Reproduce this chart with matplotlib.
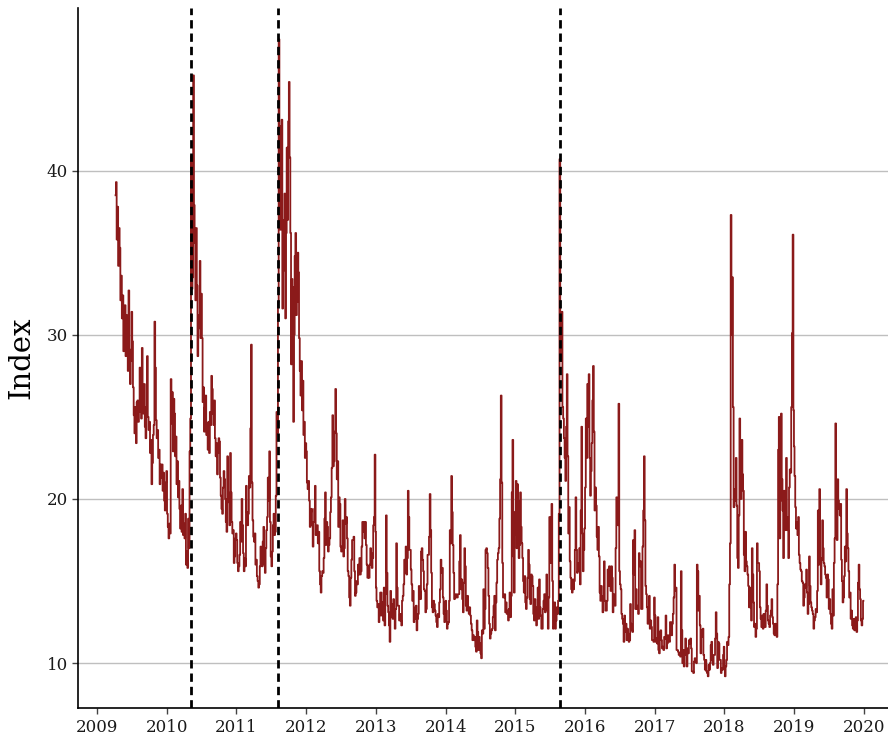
import matplotlib
matplotlib.use("Agg")
import matplotlib.pyplot as plt
import matplotlib.dates as mdates
import numpy as np
import pandas as pd

# ── Index closes, ~8 readings per month ────────────────────────────────────
vix_2009 = [  # from 7 Apr
    38.5, 39.3, 35.8, 37.8, 34.2, 36.5,
    35.3, 32.1, 33.6, 31.0, 32.4, 29.0, 30.5, 31.8,
    28.7, 31.2, 29.5, 27.8, 32.7, 29.1, 27.0, 28.4,
    31.4, 29.6, 26.8, 25.1, 24.0, 25.6, 23.4, 25.9,
    26.0, 24.7, 25.8, 28.0, 25.3, 24.9, 29.2, 26.3,
    25.2, 27.0, 24.4, 23.7, 25.6, 28.7, 25.0, 24.2,
    24.7, 22.8, 23.6, 20.9, 22.2, 23.9, 24.5, 30.8,
    28.0, 24.8, 23.7, 24.2, 22.5, 23.0, 20.9, 22.1,
    21.3, 22.1, 20.5, 21.6, 19.9, 19.3, 21.0, 21.7,
]
vix_2010 = [
    19.1, 18.3, 17.6, 18.5, 17.9, 27.3, 24.6, 26.5,
    22.9, 26.1, 25.2, 22.6, 23.8, 20.9, 22.3, 20.1,
    21.1, 19.4, 18.2, 19.6, 18.0, 20.6, 17.8, 18.5,
    17.6, 19.1, 16.0, 16.8, 15.8, 18.8, 17.0, 22.9,
    24.9, 40.9, 32.8, 33.5, 45.8, 37.9, 35.6, 32.1,
    36.5, 33.0, 28.7, 31.2, 30.4, 34.5, 29.8, 32.5,
    29.8, 25.9, 26.8, 24.1, 25.6, 26.3, 23.9, 24.6,
    23.0, 24.7, 22.8, 25.3, 24.5, 27.5, 26.7, 25.2,
    24.5, 26.0, 23.7, 22.6, 23.4, 21.5, 22.8, 23.7,
    23.5, 21.3, 20.2, 19.4, 19.1, 20.7, 21.7, 21.2,
    20.0, 18.6, 18.0, 22.6, 20.4, 19.8, 18.4, 22.8,
    20.4, 18.6, 17.9, 18.1, 16.1, 16.5, 17.6, 17.9,
]
vix_2011 = [
    17.5, 16.1, 15.6, 15.9, 16.6, 18.6, 17.4, 20.0,
    18.4, 16.7, 15.6, 16.4, 15.9, 20.8, 19.2, 18.4,
    19.1, 21.4, 20.7, 24.3, 29.4, 21.0, 18.7, 17.7,
    17.4, 17.9, 16.0, 16.3, 15.3, 15.0, 14.6, 14.8,
    15.9, 17.1, 16.6, 15.9, 17.4, 18.3, 16.0, 15.5,
    17.0, 18.1, 18.9, 21.3, 19.9, 22.9, 18.6, 16.5,
    15.9, 16.8, 18.4, 19.1, 17.8, 18.0, 20.2, 25.3,
    24.0, 32.0, 48.0, 39.0, 36.4, 42.7, 43.1, 31.6,
    33.9, 37.0, 38.6, 31.0, 36.2, 41.4, 37.0, 43.0,
    45.4, 40.8, 36.2, 28.2, 33.4, 32.9, 24.7, 30.0,
    34.8, 36.2, 31.2, 32.0, 35.0, 33.8, 29.8, 27.8,
    26.3, 28.4, 25.4, 27.2, 23.9, 24.7, 22.5, 23.4,
]
vix_2012 = [
    22.9, 21.0, 20.6, 21.1, 19.9, 18.3, 19.2, 19.4,
    18.4, 17.1, 18.6, 19.4, 20.8, 17.8, 18.2, 18.4,
    17.3, 18.0, 15.6, 14.8, 14.3, 15.3, 15.6, 15.5,
    16.4, 18.8, 20.4, 17.2, 18.6, 18.3, 16.8, 17.2,
    17.6, 19.2, 20.1, 21.9, 25.1, 22.0, 22.3, 24.1,
    26.7, 24.0, 21.2, 22.3, 18.3, 20.1, 19.7, 17.1,
    16.8, 17.1, 18.7, 16.5, 17.0, 20.0, 18.5, 18.9,
    17.6, 15.6, 15.3, 14.0, 13.5, 15.2, 16.3, 17.5,
    17.5, 17.7, 15.6, 14.1, 14.3, 15.0, 14.8, 16.0,
    15.4, 16.4, 15.4, 15.6, 17.1, 18.6, 18.0, 18.6,
    17.6, 18.6, 17.2, 16.0, 15.2, 15.9, 15.2, 16.0,
    17.0, 16.7, 15.8, 16.4, 18.4, 18.9, 22.7, 18.0,
]
vix_2013 = [
    14.6, 13.8, 13.4, 13.6, 12.5, 12.9, 14.3, 14.3,
    12.9, 13.7, 12.6, 14.6, 12.3, 14.2, 19.0, 15.5,
    13.5, 13.1, 12.3, 11.3, 14.4, 13.6, 12.8, 12.7,
    13.9, 13.0, 12.1, 13.3, 17.3, 14.6, 13.5, 13.5,
    12.6, 13.0, 12.6, 12.3, 13.8, 14.1, 14.8, 16.3,
    15.5, 17.1, 15.4, 16.4, 20.5, 18.9, 16.9, 16.9,
    15.7, 14.8, 13.8, 14.4, 12.5, 12.7, 13.4, 13.5,
    12.0, 12.7, 13.0, 14.7, 14.4, 13.9, 16.8, 17.0,
    16.3, 15.6, 14.5, 14.4, 13.1, 13.3, 14.8, 16.6,
    16.6, 17.7, 20.3, 18.1, 15.5, 13.4, 13.1, 13.8,
    13.6, 13.2, 12.9, 12.5, 12.2, 13.0, 12.8, 13.7,
    14.5, 16.3, 15.5, 15.8, 14.0, 13.0, 12.5, 13.7,
]
vix_2014 = [
    13.8, 13.2, 12.1, 12.4, 12.5, 13.8, 18.1, 17.3,
    21.4, 19.2, 17.2, 15.5, 13.9, 14.0, 14.2, 14.0,
    14.0, 14.2, 14.2, 16.2, 17.8, 14.5, 15.1, 13.9,
    13.1, 14.9, 17.0, 15.9, 13.5, 13.2, 14.1, 13.4,
    13.0, 13.4, 12.9, 12.4, 12.0, 11.4, 11.7, 11.4,
    11.6, 11.0, 10.7, 12.6, 11.9, 10.8, 11.6, 11.2,
    10.6, 10.3, 12.0, 11.8, 14.5, 12.1, 13.3, 16.9,
    17.0, 16.7, 15.8, 14.1, 12.4, 11.5, 11.8, 12.0,
    12.1, 12.8, 13.5, 14.1, 12.0, 13.7, 14.9, 16.3,
    16.7, 17.0, 18.8, 21.2, 26.3, 21.0, 16.1, 14.0,
    14.0, 14.2, 13.1, 13.7, 13.0, 13.2, 12.6, 13.3,
    14.3, 12.8, 14.1, 20.4, 23.6, 16.5, 14.3, 19.2,
]
vix_2015 = [
    17.8, 21.1, 17.0, 20.9, 19.9, 16.4, 17.2, 20.4,
    18.3, 17.3, 16.4, 15.0, 14.3, 15.3, 13.7, 13.3,
    14.0, 15.2, 16.9, 16.0, 13.9, 13.6, 15.4, 15.3,
    14.7, 13.0, 12.6, 13.9, 12.7, 12.3, 13.4, 14.6,
    12.7, 15.1, 13.4, 12.9, 12.1, 12.1, 13.3, 13.8,
    14.2, 13.1, 14.0, 15.4, 13.2, 12.1, 14.0, 18.9,
    16.1, 16.8, 19.7, 15.0, 12.1, 12.2, 13.7, 12.1,
    12.6, 13.4, 13.0, 13.8, 19.1, 40.7, 30.3, 28.4,
    31.4, 25.6, 24.9, 23.7, 22.5, 21.1, 24.4, 27.6,
    22.6, 17.9, 19.5, 16.2, 15.2, 14.5, 14.3, 15.1,
    14.5, 15.0, 16.9, 20.1, 16.9, 15.5, 15.6, 16.1,
    17.0, 14.8, 19.3, 24.4, 17.9, 15.6, 16.9, 18.2,
]
vix_2016 = [
    20.7, 24.9, 22.5, 27.0, 24.4, 27.6, 22.5, 20.2,
    21.7, 23.4, 26.0, 28.1, 24.1, 19.3, 20.7, 19.6,
    17.7, 16.9, 18.3, 16.5, 14.3, 13.8, 14.7, 13.9,
    13.1, 14.1, 16.2, 13.8, 13.2, 13.2, 13.8, 15.7,
    14.7, 15.9, 14.7, 14.4, 15.9, 15.2, 13.1, 14.2,
    14.0, 13.5, 17.0, 20.1, 19.4, 18.4, 25.8, 15.6,
    14.8, 14.5, 13.0, 12.7, 12.4, 11.3, 12.9, 11.9,
    12.4, 11.4, 12.1, 11.8, 11.3, 11.4, 13.6, 12.4,
    12.0, 11.9, 17.5, 15.4, 18.1, 13.3, 14.5, 13.3,
    13.5, 13.0, 16.7, 15.9, 16.2, 13.3, 13.3, 17.1,
    19.3, 22.6, 18.7, 14.7, 14.2, 13.4, 12.4, 13.3,
    14.1, 12.1, 12.6, 12.2, 11.4, 11.4, 11.3, 14.0,
]
vix_2017 = [
    12.9, 11.3, 11.5, 11.2, 12.8, 10.8, 10.6, 11.9,
    12.0, 11.4, 10.9, 11.0, 10.8, 11.6, 11.5, 12.9,
    10.9, 11.2, 11.7, 11.4, 11.3, 12.5, 12.5, 11.7,
    12.4, 13.0, 14.0, 16.0, 14.4, 14.6, 10.8, 10.8,
    10.7, 10.5, 10.6, 10.4, 15.6, 12.0, 10.0, 10.8,
    9.8, 10.5, 11.5, 10.9, 9.8, 10.9, 10.6, 11.4,
    11.2, 11.5, 10.9, 9.5, 9.5, 9.4, 10.1, 10.3,
    10.1, 10.0, 16.0, 15.6, 13.2, 14.1, 12.3, 10.6,
    12.0, 11.6, 12.1, 10.5, 10.2, 9.6, 10.2, 9.5,
    9.4, 9.2, 9.9, 9.6, 10.0, 11.1, 11.3, 10.2,
    9.9, 10.5, 10.5, 11.5, 13.1, 11.8, 9.7, 11.3,
    11.2, 10.2, 10.2, 9.4, 9.7, 9.6, 10.5, 11.0,
]
vix_2018 = [
    9.8, 9.2, 9.8, 10.2, 11.3, 11.1, 11.6, 14.8,
    17.3, 37.3, 30.0, 33.5, 25.6, 19.5, 20.6, 19.9,
    22.5, 19.6, 16.4, 15.8, 19.0, 24.9, 22.9, 20.0,
    23.6, 21.5, 20.5, 16.6, 15.6, 18.0, 16.2, 15.9,
    15.4, 14.7, 13.4, 14.6, 13.4, 12.6, 17.0, 15.4,
    13.7, 12.2, 12.4, 11.6, 12.1, 17.3, 16.1, 16.1,
    15.6, 13.4, 12.7, 12.2, 12.9, 12.1, 13.0, 13.0,
    12.2, 13.2, 14.8, 13.5, 12.6, 12.4, 12.2, 12.9,
    13.2, 13.9, 12.8, 12.4, 11.8, 11.7, 12.4, 12.1,
    11.6, 14.8, 23.0, 25.0, 17.6, 19.9, 25.2, 21.2,
    19.3, 16.4, 20.5, 20.1, 18.1, 22.5, 18.9, 18.1,
    16.4, 20.7, 21.8, 21.6, 25.6, 30.1, 36.1, 25.4,
]
vix_2019 = [
    23.2, 21.4, 19.5, 18.2, 18.6, 17.8, 18.9, 16.6,
    16.1, 15.7, 15.6, 15.0, 14.9, 13.5, 14.0, 14.8,
    14.6, 15.7, 14.3, 13.0, 13.6, 16.5, 14.7, 13.7,
    13.4, 13.2, 13.0, 12.1, 12.6, 12.8, 13.3, 13.1,
    14.4, 19.3, 16.0, 20.6, 16.4, 14.8, 16.3, 18.7,
    17.0, 16.1, 15.9, 15.4, 15.2, 14.0, 15.4, 15.1,
    13.3, 13.9, 13.0, 12.4, 12.1, 14.5, 12.9, 16.1,
    17.6, 24.6, 19.5, 17.5, 21.2, 19.9, 19.4, 19.0,
    19.7, 16.3, 15.0, 13.7, 14.0, 15.3, 17.1, 16.2,
    20.6, 17.9, 17.0, 15.6, 14.0, 14.3, 12.7, 13.2,
    12.3, 12.1, 12.7, 12.0, 12.5, 12.8, 11.9, 12.6,
    14.9, 16.0, 14.5, 13.9, 12.6, 12.3, 12.7, 13.8,
]

segments = [
    ("2009-04-07", vix_2009), ("2010-01-04", vix_2010), ("2011-01-03", vix_2011),
    ("2012-01-03", vix_2012), ("2013-01-02", vix_2013), ("2014-01-02", vix_2014),
    ("2015-01-02", vix_2015), ("2016-01-04", vix_2016), ("2017-01-03", vix_2017),
    ("2018-01-02", vix_2018), ("2019-01-02", vix_2019),
]

events = ["2010-05-06", "2011-08-08", "2015-08-24"]
yticks = [10, 20, 30, 40]
years = list(range(2009, 2021))

# ── build the series ───────────────────────────────────────────────────────
dates, values = [], []
for start, vals in segments:
    end = f"{start[:4]}-12-31"
    dates.append(pd.date_range(start, end, periods=len(vals)))
    values.extend(vals)
dates = dates[0].append(dates[1:])
values = np.array(values)

plt.rcParams.update({
    "font.family": "serif",
    "font.serif": ["DejaVu Serif"],
})

fig = plt.figure(figsize=(8.88, 7.34), dpi=100)
ax = fig.add_axes([0.088, 0.035, 0.912, 0.954])

# step drawing gives the dense vertical look of the daily series
ax.plot(dates, values, color="#8b1a1a", linewidth=1.3,
        drawstyle="steps-mid", zorder=2)
for ev in events:
    ax.axvline(pd.Timestamp(ev), color="black", linestyle=(0, (3, 1.8)),
               linewidth=2.0, zorder=3)

ax.set_ylim(7.25, 49.9)
ax.set_xlim(pd.Timestamp("2008-09-23"), pd.Timestamp("2020-05-08"))
ax.set_yticks(yticks)
ax.set_xticks([pd.Timestamp(f"{y}-01-01") for y in years])
ax.xaxis.set_major_formatter(mdates.DateFormatter("%Y"))

ax.grid(axis="y", color="#bfbfbf", linewidth=1.0, zorder=0)
ax.set_axisbelow(True)
for side in ("top", "right"):
    ax.spines[side].set_visible(False)
ax.spines["left"].set_linewidth(1.2)
ax.spines["bottom"].set_linewidth(1.2)
ax.tick_params(labelsize=12, length=4, width=1, color="#444444",
               labelcolor="#1a1a1a")
ax.set_ylabel("Index", fontsize=21, labelpad=8)

fig.savefig("out.png", dpi=100)
